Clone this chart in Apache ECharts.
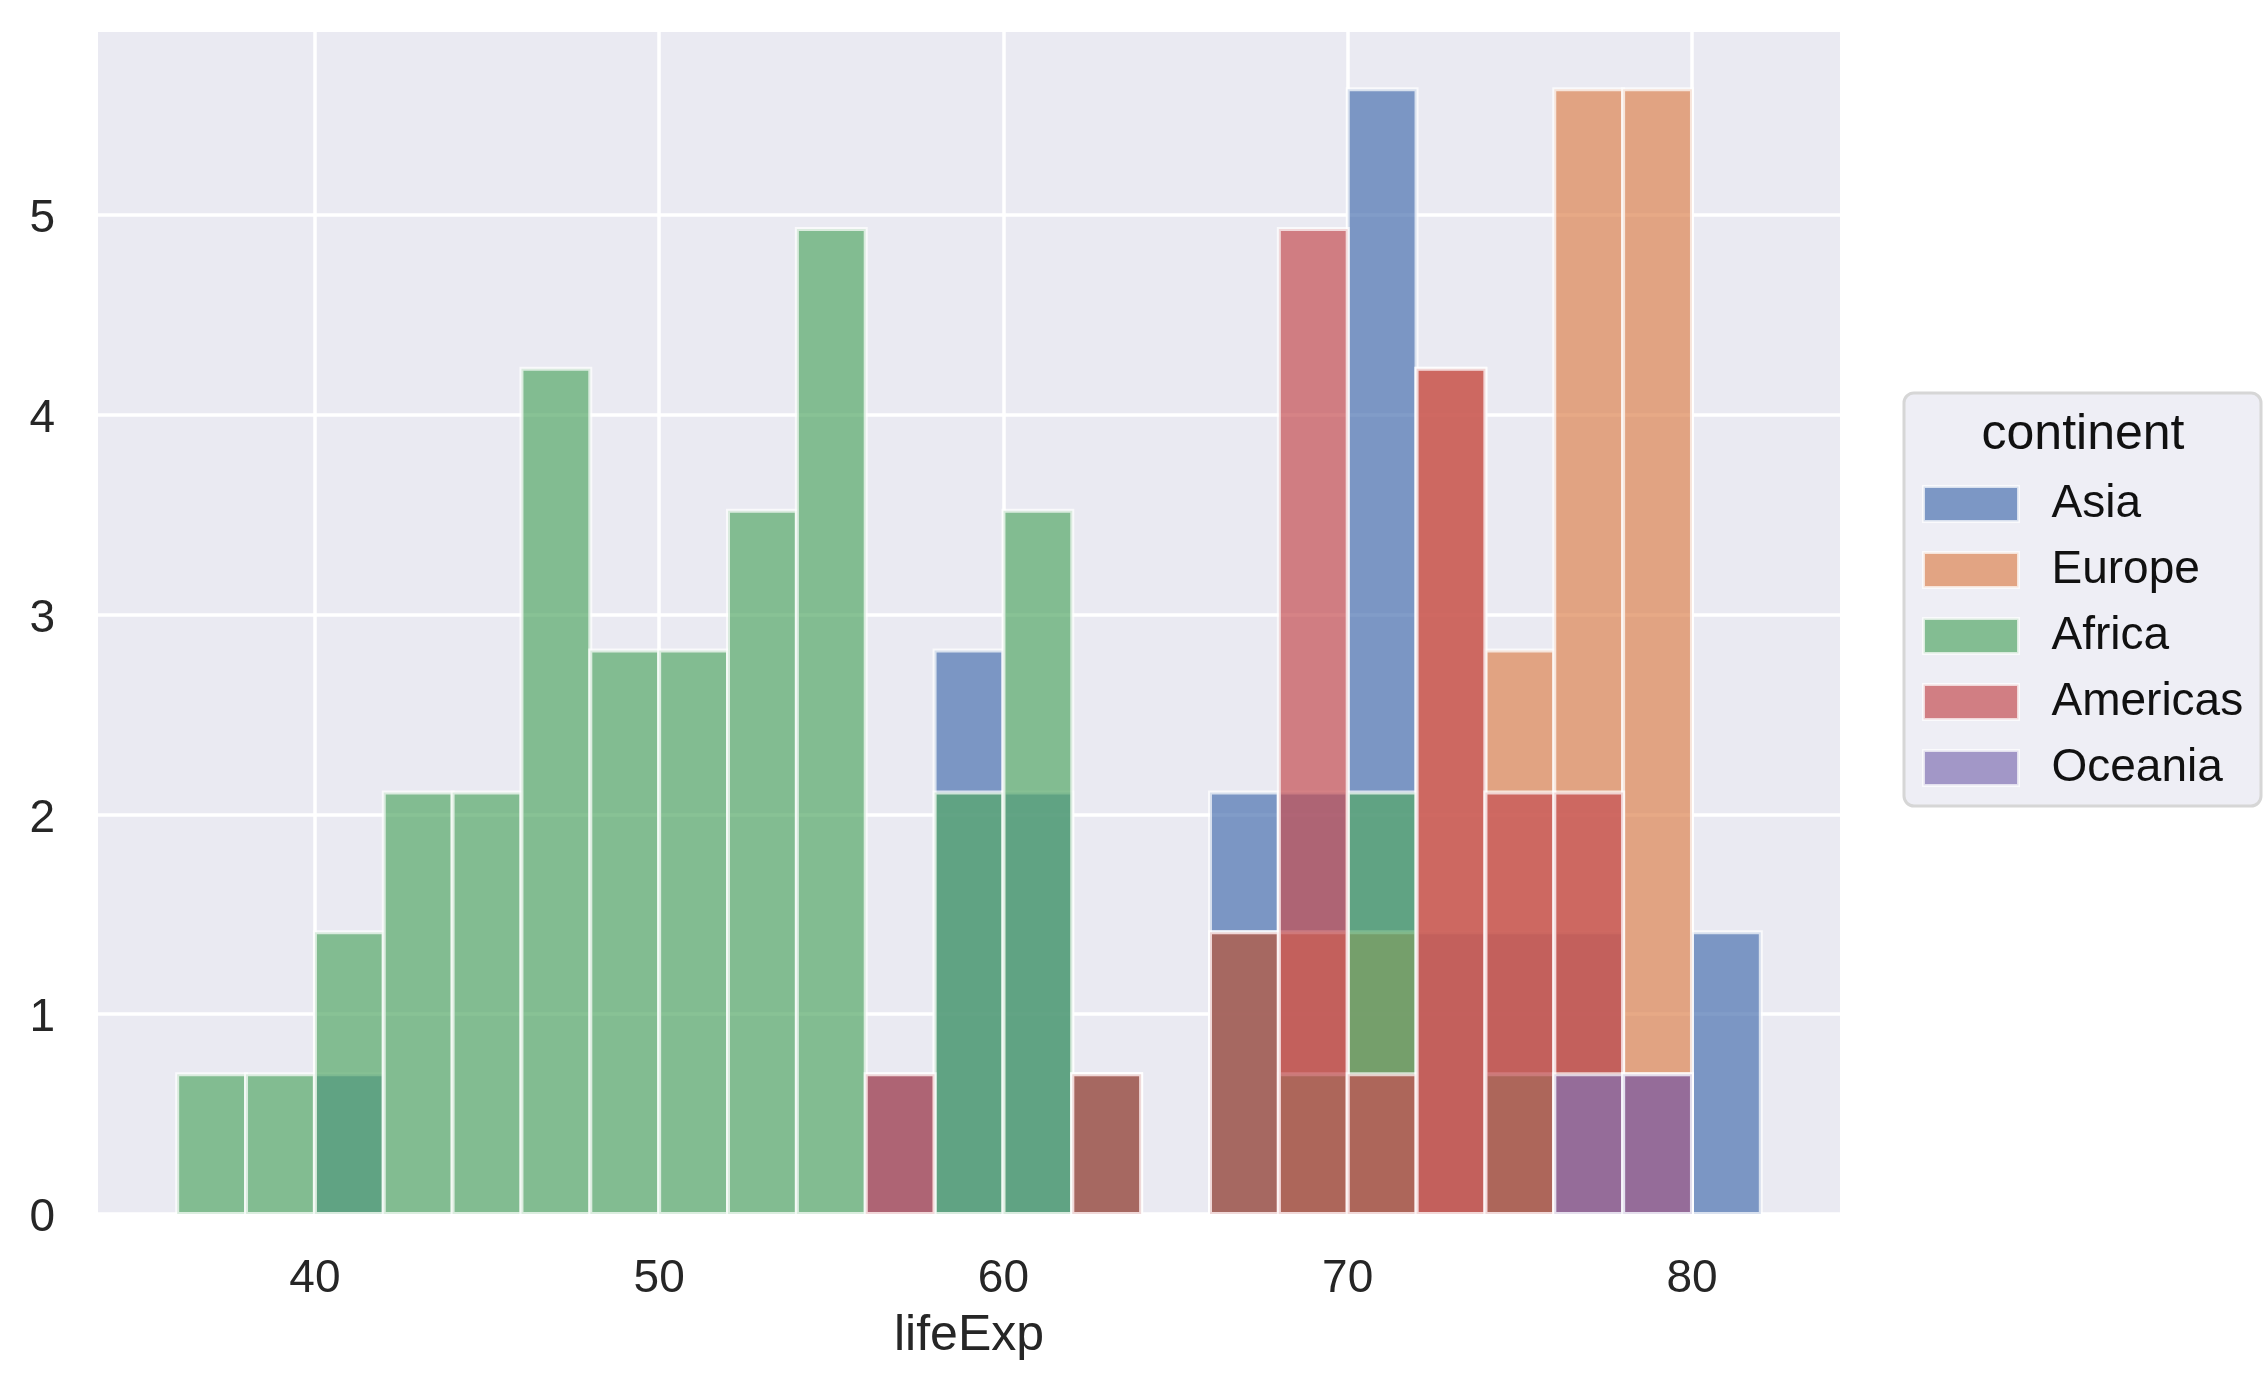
<!DOCTYPE html>
<html>
<head>
<meta charset="utf-8">
<script src="https://cdn.jsdelivr.net/npm/echarts@6/dist/echarts.min.js"></script>
<style>
  html, body { margin: 0; padding: 0; background: #fff; }
  #hist { width: 2266px; height: 1392px; }
</style>
</head>
<body>
<div id="hist"></div>
<script>
// histogram bins: left edges, width 2 years
const binStarts = [36, 38, 40, 42, 44, 46, 48, 50, 52, 54, 56, 58, 60, 62, 64, 66, 68, 70, 72, 74, 76, 78, 80];
const binWidth = 2;

// percent of countries per bin, one list per continent
const continents = ['Asia', 'Europe', 'Africa', 'Americas', 'Oceania'];
const asia     = [0, 0, 0.70, 0, 0, 0, 0, 0, 0, 0, 0.70, 2.82, 2.11, 0.70, 0, 2.11, 2.11, 5.63, 1.41, 1.41, 1.41, 0.70, 1.41];
const europe   = [0, 0, 0, 0, 0, 0, 0, 0, 0, 0, 0, 0, 0, 0, 0, 0, 1.41, 1.41, 4.23, 2.82, 5.63, 5.63, 0];
const africa   = [0.70, 0.70, 1.41, 2.11, 2.11, 4.23, 2.82, 2.82, 3.52, 4.93, 0, 2.11, 3.52, 0.70, 0, 1.41, 0.70, 2.11, 0, 0.70, 0, 0, 0];
const americas = [0, 0, 0, 0, 0, 0, 0, 0, 0, 0, 0.70, 0, 0, 0.70, 0, 1.41, 4.93, 0.70, 4.23, 2.11, 2.11, 0.70, 0];
const oceania  = [0, 0, 0, 0, 0, 0, 0, 0, 0, 0, 0, 0, 0, 0, 0, 0, 0, 0, 0, 0, 0.70, 0.70, 0];

const xTicks = [40, 50, 60, 70, 80];
const yTicks = [0, 1, 2, 3, 4, 5];

const colors = ['#4c72b0', '#dd8452', '#55a868', '#c44e52', '#8172b3'];
const FONT = "'Liberation Sans', Arial, sans-serif";
const TXT = '#262626';

function histSeries(name, values, color) {
  return {
    type: 'custom',
    name: name,
    itemStyle: { color: color },
    encode: { x: [0, 1], y: 2 },
    data: binStarts
      .map((x, i) => [x, x + binWidth, values[i]])
      .filter(d => d[2] > 0),
    renderItem: function (params, api) {
      const p0 = api.coord([api.value(0), 0]);
      const p1 = api.coord([api.value(1), api.value(2)]);
      return {
        type: 'rect',
        shape: { x: p0[0], y: p1[1], width: p1[0] - p0[0], height: p0[1] - p1[1] },
        style: { fill: color, stroke: '#ffffff', lineWidth: 4, opacity: 0.7 }
      };
    }
  };
}

const allValues = [asia, europe, africa, americas, oceania];
const myChart = echarts.init(document.getElementById('hist'));

const option = {
  backgroundColor: '#ffffff',
  animation: false,
  textStyle: { fontFamily: FONT },
  grid: {
    left: 98, right: 426, top: 32, bottom: 178,
    show: true, backgroundColor: '#eaeaf2', borderWidth: 0
  },
  xAxis: {
    type: 'value',
    min: 33.7, max: 84.3,
    name: 'lifeExp',
    nameLocation: 'middle',
    nameGap: 97,
    nameTextStyle: { fontSize: 50, color: TXT, fontFamily: FONT },
    axisLine: { show: false },
    axisTick: { show: false, customValues: xTicks },
    axisLabel: { customValues: xTicks, fontSize: 46, color: TXT, margin: 42, fontFamily: FONT },
    splitLine: { show: true, lineStyle: { color: '#ffffff', width: 3.5 } }
  },
  yAxis: {
    type: 'value',
    min: 0, max: 5.916,
    axisLine: { show: false },
    axisTick: { show: false, customValues: yTicks },
    axisLabel: {
      customValues: yTicks, margin: 43,
      formatter: v => '{t|' + v + '}',
      rich: { t: { fontSize: 46, color: TXT, fontFamily: FONT, padding: [9, 0, 0, 0] } }
    },
    splitLine: { show: true, lineStyle: { color: '#ffffff', width: 3.5 } }
  },
  legend: {
    orient: 'vertical',
    left: 1922, top: 481,
    padding: 0,
    itemGap: 20,
    itemWidth: 95, itemHeight: 35,
    icon: 'rect',
    itemStyle: { borderColor: '#ffffff', borderWidth: 3, opacity: 0.7 },
    textStyle: { fontSize: 46, lineHeight: 46, color: '#111111', fontFamily: FONT, padding: [0, 0, 0, 28] },
    data: continents,
    selectedMode: false,
    z: 10
  },
  graphic: [
    {
      type: 'rect', z: 5,
      shape: { x: 1904, y: 393, width: 357, height: 413, r: 10 },
      style: { fill: '#eeeef5', stroke: '#d6d6d6', lineWidth: 3 }
    },
    {
      type: 'text', z: 6,
      style: {
        x: 2083, y: 435, text: 'continent',
        font: '50px ' + FONT, fill: '#111111',
        textAlign: 'center', textVerticalAlign: 'middle'
      }
    }
  ],
  series: continents.map((c, i) => histSeries(c, allValues[i], colors[i]))
};

myChart.setOption(option);
</script>
</body>
</html>
